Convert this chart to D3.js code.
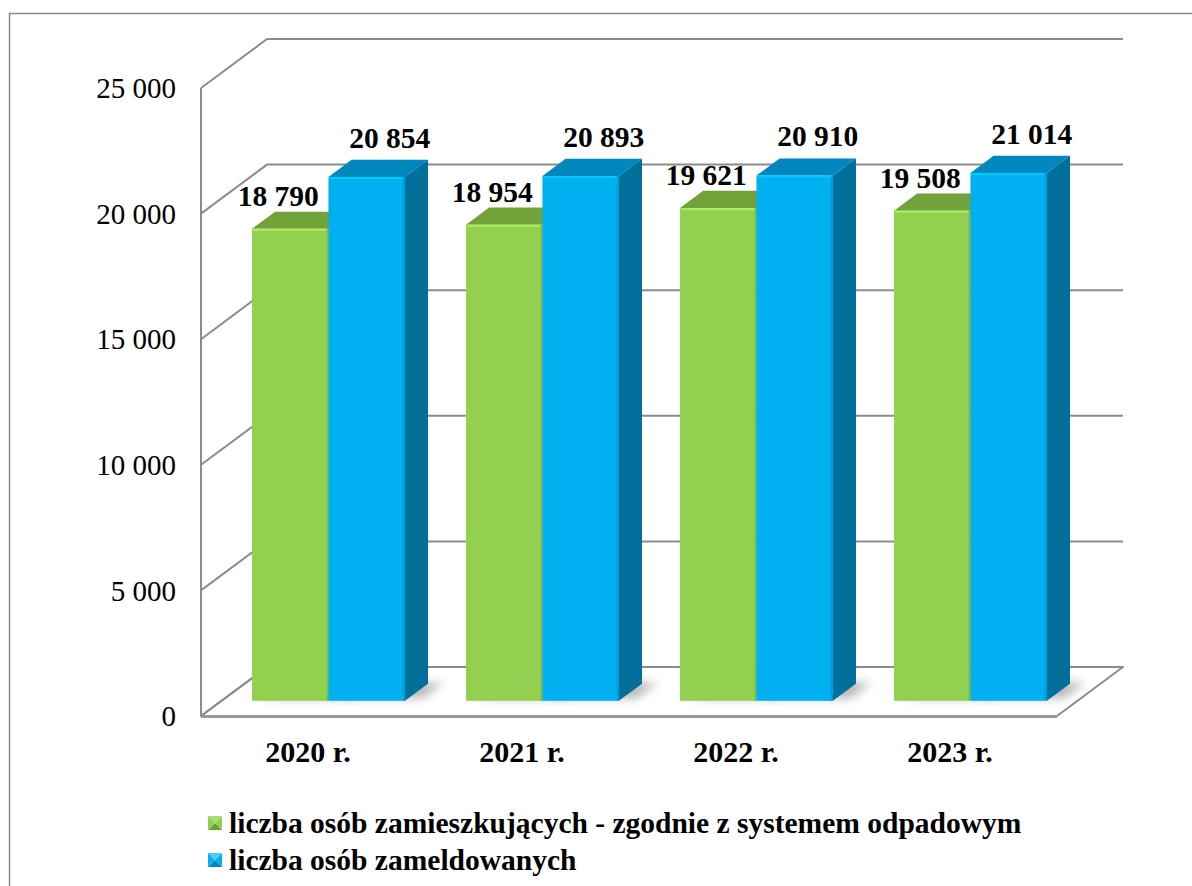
<!DOCTYPE html>
<html>
<head>
<meta charset="utf-8">
<script src="https://cdn.jsdelivr.net/npm/d3@7"></script>
<style>
  html, body { margin: 0; padding: 0; background: #fff; }
  svg { display: block; }
  text { font-family: "Liberation Serif", "Times New Roman", serif; }
</style>
</head>
<body>
<svg id="chart" width="1192" height="886"></svg>
<script>
// ---- data ----
const categories = ["2020 r.", "2021 r.", "2022 r.", "2023 r."];
const seriesNames = [
  "liczba osób zamieszkujących - zgodnie z systemem odpadowym",
  "liczba osób zameldowanych"
];
const residents = [18790, 18954, 19621, 19508];
const registered = [20854, 20893, 20910, 21014];
const tickValues = [0, 5000, 10000, 15000, 20000, 25000];
const tickLabels = ["0", "5 000", "10 000", "15 000", "20 000", "25 000"];
const valueLabels = [
  ["18 790", "18 954", "19 621", "19 508"],
  ["20 854", "20 893", "20 910", "21 014"]
];

// ---- styles ----
const colors = [
  { front: "#92D050", top: "#72A23A", side: "#5F8A2E", legendA: "#A9DC6E", legendB: "#6E9E36" },
  { front: "#00B0F0", top: "#0088BE", side: "#006F99", legendA: "#4CCBF7", legendB: "#0084B5" }
];
const gridColor = "#8C8C8C";

const svg = d3.select("#chart");

// frame
svg.append("rect")
  .attr("x", 9.5).attr("y", 13.5).attr("width", 1200).attr("height", 900)
  .attr("fill", "none").attr("stroke", "#8A8A8A").attr("stroke-width", 1.5);

// ---- 3D geometry ----
const left = 201, right = 1057;
const DX = 66, DY = -49;           // full depth offset of walls
const y = d3.scaleLinear().domain([0, 25000]).range([716, 88]);
const x0 = d3.scaleBand().domain(categories).range([left, right]).paddingInner(0).paddingOuter(0);
const x1 = d3.scaleBand().domain([0, 1]).range([0, x0.bandwidth()]).paddingInner(0).paddingOuter(0.4);
const barD0 = 0.31, barD1 = 0.66;  // bar depth extent (fraction of wall depth)

function P(xf, v, d) { return [xf + d * DX, y(v) + d * DY]; }
function poly(pts) { return pts.map(p => p.join(",")).join(" "); }

const g = svg.append("g");

const defs = svg.append("defs");
defs.append("filter").attr("id", "blur").attr("x", "-50%").attr("y", "-50%").attr("width", "200%").attr("height", "200%")
  .append("feGaussianBlur").attr("stdDeviation", 5);

// floor
g.append("polygon")
  .attr("points", poly([P(left, 0, 0), P(left, 0, 1), P(right, 0, 1), P(right, 0, 0)]))
  .attr("fill", "#fff").attr("stroke", gridColor).attr("stroke-width", 2).attr("stroke-linejoin", "round");
g.append("line")
  .attr("x1", left).attr("x2", right).attr("y1", y(0) + 0.5).attr("y2", y(0) + 0.5)
  .attr("stroke", "#9A9A9A").attr("stroke-width", 3);

// gridlines: left wall diagonal + back wall horizontal
tickValues.forEach(v => {
  const a = P(left, v, 0), b = P(left, v, 1), c = P(right, v, 1);
  g.append("polyline").attr("points", poly([a, b, c]))
    .attr("fill", "none").attr("stroke", gridColor).attr("stroke-width", 2);
});
g.append("line")
  .attr("x1", left).attr("x2", left).attr("y1", y(25000)).attr("y2", y(0))
  .attr("stroke", gridColor).attr("stroke-width", 2);

// tick labels
g.selectAll("text.tick").data(tickValues).enter().append("text")
  .attr("class", "tick")
  .attr("x", 176).attr("y", d => y(d))
  .attr("dy", "0.35em").attr("text-anchor", "end")
  .attr("font-size", 29).attr("fill", "#000")
  .text((d, i) => tickLabels[i]);

const seriesData = [residents, registered];

// shadows
categories.forEach((cat, ci) => {
  seriesData.forEach((vals, si) => {
    const xa = x0(cat) + x1(si), xb = xa + x1.bandwidth();
    g.append("polygon")
      .attr("points", poly([P(xa + 8, 0, barD0 + 0.05), P(xb + 14, 0, barD0 + 0.05), P(xb + 14, 0, barD1 + 0.02), P(xa + 8, 0, barD1 + 0.02)]))
      .attr("fill", "#7a7a7a").attr("opacity", 0.55).attr("filter", "url(#blur)");
  });
});

// bars
categories.forEach((cat, ci) => {
  seriesData.forEach((vals, si) => {
    const v = vals[ci];
    const c = colors[si];
    const xa = x0(cat) + x1(si), xb = xa + x1.bandwidth();
    g.append("polygon")
      .attr("points", poly([P(xb, 0, barD0), P(xb, 0, barD1), P(xb, v, barD1), P(xb, v, barD0)]))
      .attr("fill", c.side);
    g.append("polygon")
      .attr("points", poly([P(xa, v, barD0), P(xb, v, barD0), P(xb, v, barD1), P(xa, v, barD1)]))
      .attr("fill", c.top);
    const f0 = P(xa, v, barD0), f1 = P(xb, 0, barD0);
    g.append("rect")
      .attr("x", f0[0]).attr("y", f0[1]).attr("width", f1[0] - f0[0]).attr("height", f1[1] - f0[1])
      .attr("fill", c.front);
    g.append("line")
      .attr("x1", f0[0] + 1).attr("x2", f1[0] - 1).attr("y1", f0[1] + 1).attr("y2", f0[1] + 1)
      .attr("stroke", d3.color(c.front).brighter(0.4)).attr("stroke-width", 2);
    g.append("line")
      .attr("x1", f1[0] - 1).attr("x2", f1[0] - 1).attr("y1", f0[1]).attr("y2", f1[1])
      .attr("stroke", d3.color(c.front).darker(0.3)).attr("stroke-width", 2);
  });
});

// value labels
categories.forEach((cat, ci) => {
  seriesData.forEach((vals, si) => {
    const v = vals[ci];
    const xa = x0(cat) + x1(si), xb = xa + x1.bandwidth();
    const topBack = P((xa + xb) / 2, v, barD1);
    const frontCenter = P((xa + xb) / 2, v, barD0);
    const lx = si === 0 ? frontCenter[0] - 12 : topBack[0];
    const ly = topBack[1] - (si === 0 ? 6 : 12);
    g.append("text")
      .attr("x", lx).attr("y", ly)
      .attr("text-anchor", "middle")
      .attr("font-size", 29.5).attr("font-weight", "bold").attr("fill", "#000")
      .text(valueLabels[si][ci]);
  });
});

// category labels
g.selectAll("text.cat").data(categories).enter().append("text")
  .attr("class", "cat")
  .attr("x", d => x0(d) + x0.bandwidth() / 2).attr("y", 762)
  .attr("text-anchor", "middle")
  .attr("font-size", 30).attr("font-weight", "bold").attr("fill", "#000")
  .text(d => d);

// legend
const legend = svg.append("g");
seriesNames.forEach((name, i) => {
  const ly = 823 + i * 37;
  const c = colors[i];
  const s = 14, lx = 208, ty = ly - s / 2;
  const cx = lx + s / 2, cy = ly;
  const tri = [
    [[lx, ty], [lx + s, ty], [cx, cy]],
    [[lx + s, ty], [lx + s, ty + s], [cx, cy]],
    [[lx, ty + s], [lx + s, ty + s], [cx, cy]],
    [[lx, ty], [lx, ty + s], [cx, cy]]
  ];
  const shades = [c.legendA, c.front, c.legendB, c.front];
  tri.forEach((t, k) => legend.append("polygon").attr("points", poly(t)).attr("fill", shades[k]));
  legend.append("text")
    .attr("x", 229).attr("y", ly).attr("dy", "0.35em")
    .attr("font-size", 29.5).attr("font-weight", "bold").attr("fill", "#000")
    .text(name);
});
</script>
</body>
</html>
